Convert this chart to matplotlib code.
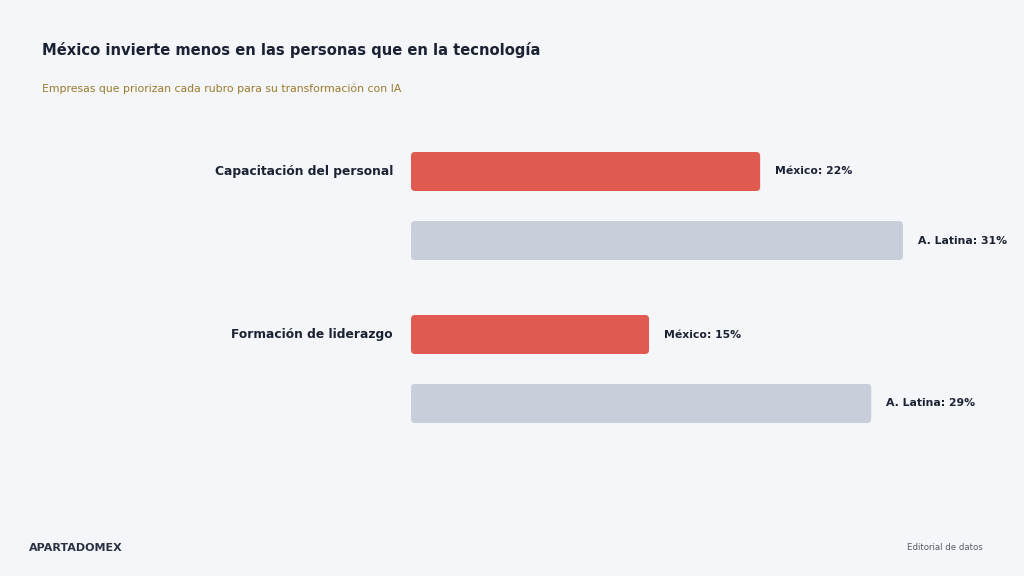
import matplotlib
matplotlib.use("Agg")
import matplotlib.pyplot as plt
from matplotlib.patches import FancyBboxPatch

plt.rcParams["font.family"] = ["DejaVu Sans"]

categories = ["Capacitación del personal", "Formación de liderazgo"]
mexico = [22, 15]
latam = [31, 29]
series_names = ["México", "A. Latina"]

title = "México invierte menos en las personas que en la tecnología"
subtitle = "Empresas que priorizan cada rubro para su transformación con IA"
brand = "APARTADOMEX"
footer_right = "Editorial de datos"

BG = "#F4F6FA"
RED = "#E05A50"
GRAY = "#C9CEDB"
DARK = "#1B2233"
GOLD = "#9C7B2C"

W, H = 1024, 576
fig = plt.figure(figsize=(W / 100, H / 100), dpi=100, facecolor=BG)

# axes placement in pixels
x0_px, px_per_unit, xmax = 411, 15.87, 36
top_px, bot_px = 140, 440
ax = fig.add_axes([x0_px / W, 1 - bot_px / H, xmax * px_per_unit / W, (bot_px - top_px) / H])
ax.set_facecolor(BG)
ax.set_xlim(0, xmax)
first_center = 171.5
ax.set_ylim(bot_px - first_center, top_px - first_center)
ax.axis("off")

group_gap, pair_gap, bar_h = 163, 69, 39
for i, cat in enumerate(categories):
    y_m = i * group_gap
    y_l = y_m + pair_gap
    for y, val, col, name in [(y_m, mexico[i], RED, series_names[0]), (y_l, latam[i], GRAY, series_names[1])]:
        b = ax.barh(y, val, height=bar_h, color=col)[0]
        b.set_visible(False)
        ax.add_patch(FancyBboxPatch((b.get_x(), b.get_y()), b.get_width(), b.get_height(),
                                    boxstyle="round,pad=0,rounding_size=0.25",
                                    mutation_aspect=16, facecolor=col, edgecolor="none"))
        ax.text(val + 15 / px_per_unit, y, f"{name}: {val}%", ha="left", va="center",
                fontsize=7.8, fontweight="bold", color=DARK)
    ax.text(-18 / px_per_unit, y_m, cat, ha="right", va="center", fontsize=8.8,
            fontweight="bold", color=DARK)

fig.text(42 / W, 1 - 50 / H, title, ha="left", va="center", fontsize=10.6,
         fontweight="bold", color=DARK)
fig.text(42 / W, 1 - 89 / H, subtitle, ha="left", va="center", fontsize=7.8, color=GOLD)
fig.text(29 / W, 1 - 548 / H, brand, ha="left", va="center", fontsize=8,
         fontweight="bold", color="#2A3142")
fig.text(983 / W, 1 - 548 / H, footer_right, ha="right", va="center", fontsize=6.2,
         color="#555B66")

fig.savefig("out.png", dpi=100, facecolor=BG)
